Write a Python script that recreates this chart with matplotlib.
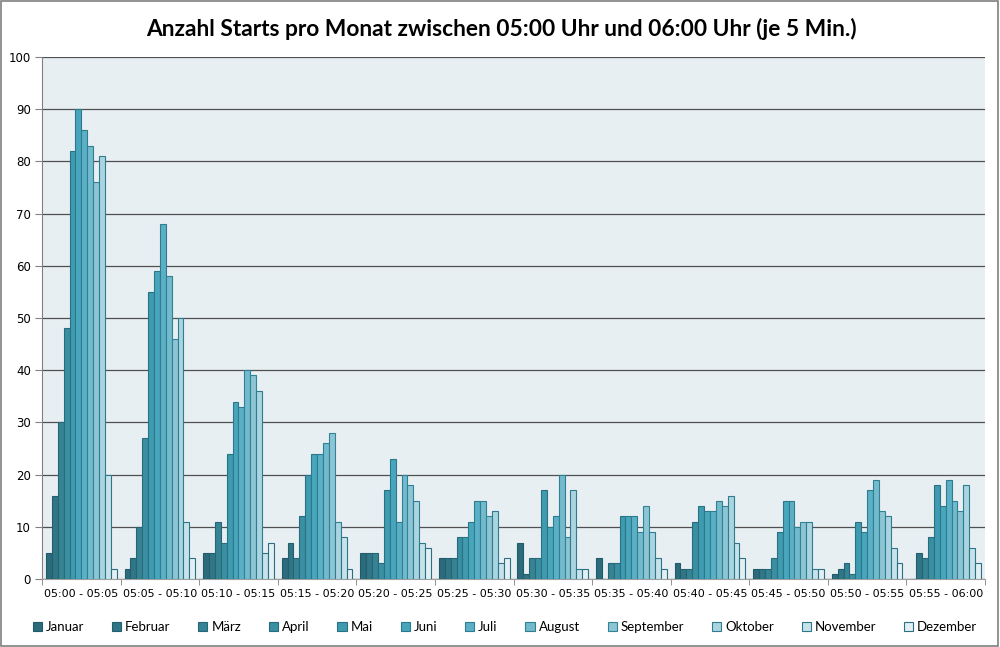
import numpy as np
import matplotlib.pyplot as plt
from matplotlib.patches import Rectangle

intervals = ["05:00 - 05:05", "05:05 - 05:10", "05:10 - 05:15", "05:15 - 05:20",
             "05:20 - 05:25", "05:25 - 05:30", "05:30 - 05:35", "05:35 - 05:40",
             "05:40 - 05:45", "05:45 - 05:50", "05:50 - 05:55", "05:55 - 06:00"]
months = ["Januar", "Februar", "März", "April", "Mai", "Juni", "Juli", "August",
          "September", "Oktober", "November", "Dezember"]

# values per month, one entry per interval
januar = [5, 2, 5, 4, 5, 4, 7, 4, 3, 2, 1, 0]
februar = [16, 4, 5, 7, 5, 4, 1, 0, 2, 2, 2, 5]
maerz = [30, 10, 11, 4, 5, 4, 4, 3, 2, 2, 3, 4]
april = [48, 27, 7, 12, 3, 8, 4, 3, 11, 4, 1, 8]
mai = [82, 55, 24, 20, 17, 8, 17, 12, 14, 9, 11, 18]
juni = [90, 59, 34, 24, 23, 11, 10, 12, 13, 15, 9, 14]
juli = [86, 68, 33, 24, 11, 15, 12, 12, 13, 15, 17, 19]
august = [83, 58, 40, 26, 20, 15, 20, 9, 15, 10, 19, 15]
september = [76, 46, 39, 28, 18, 12, 8, 14, 14, 11, 13, 13]
oktober = [81, 50, 36, 11, 15, 13, 17, 9, 16, 11, 12, 18]
november = [20, 11, 5, 8, 7, 3, 2, 4, 7, 2, 6, 6]
dezember = [2, 4, 7, 2, 6, 4, 2, 2, 4, 2, 3, 3]

series = [januar, februar, maerz, april, mai, juni, juli, august,
          september, oktober, november, dezember]

colors = ["#2C6B7B", "#317686", "#368394", "#3A8FA2", "#3F9BB0", "#48A6BC",
          "#5BB0C6", "#73BACC", "#8DC5D4", "#AAD4DF", "#C7E2EA", "#E2EFF3"]
edges = ["#215A69", "#235F6E", "#256575", "#276B7C", "#297284", "#2B788A",
         "#2D7C8F", "#2F8094", "#318397", "#2F7C90", "#2D7589", "#2B6F83"]

fig = plt.figure(figsize=(10, 6.47), dpi=100)
fig.patch.set_facecolor("white")
fig.add_artist(Rectangle((0.001, 0.001), 0.997, 0.997, transform=fig.transFigure,
                         fill=False, edgecolor="#7F7F7F", linewidth=1.2))

ax = fig.add_axes([0.042, 0.105, 0.943, 0.807])
ax.set_facecolor("#E8EFF3")

n = len(months)
x = np.arange(len(intervals))
w = 0.9 / n
for i, vals in enumerate(series):
    ax.bar(x - 0.45 + w * (i + 0.5), vals, width=w, color=colors[i],
           edgecolor=edges[i], linewidth=0.8, label=months[i], zorder=3)

ax.set_xlim(-0.5, len(intervals) - 0.5)
ax.set_ylim(0, 100)
ax.set_yticks(range(0, 101, 10))
ax.yaxis.grid(True, color="#505050", linewidth=0.9, zorder=0)
ax.set_axisbelow(True)

ax.set_xticks(x)
ax.set_xticklabels(intervals, fontsize=8, family="DejaVu Sans")
ax.set_xticks(np.arange(-0.5, len(intervals)), minor=True)
ax.tick_params(axis="x", which="major", length=0, pad=7)
ax.tick_params(axis="x", which="minor", length=4, color="#808080")
ax.tick_params(axis="y", labelsize=8.5, length=5, color="#808080", pad=3)

for s in ["top", "right"]:
    ax.spines[s].set_visible(False)
ax.spines["left"].set_color("#808080")
ax.spines["bottom"].set_color("#A0A0A0")

fig.suptitle("Anzahl Starts pro Monat zwischen 05:00 Uhr und 06:00 Uhr (je 5 Min.)",
             x=0.501, y=0.973, fontsize=16.4, fontweight="bold", family="Lato")

fig.legend(loc="center", bbox_to_anchor=(0.505, 0.031), ncol=12, frameon=False,
           prop={"family": "Lato", "size": 9.5}, handlelength=0.7, handleheight=0.7,
           handletextpad=0.3, columnspacing=2.1)

plt.savefig("out.png", dpi=100)
